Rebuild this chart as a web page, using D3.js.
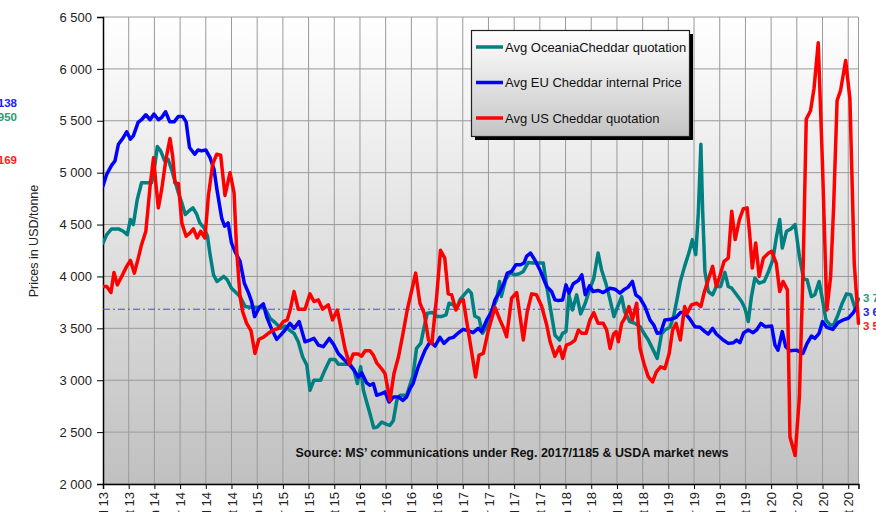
<!DOCTYPE html>
<html><head><meta charset="utf-8">
<script src="https://cdn.jsdelivr.net/npm/d3@7"></script>
<style>body{margin:0;background:#fff;} svg{display:block;font-family:Arial,"Liberation Sans",sans-serif;}</style>
</head><body><svg id="c" width="876" height="512"></svg>
<script>
// ---- DATA ----
// x values are months since Jul 2013
const tickMonths = d3.range(0, 88, 3);
const tickLabels = ["Jul 13","Oct 13","Jan 14","Apr 14","Jul 14","Oct 14","Jan 15","Apr 15","Jul 15","Oct 15",
  "Jan 16","Apr 16","Jul 16","Oct 16","Jan 17","Apr 17","Jul 17","Oct 17","Jan 18","Apr 18","Jul 18","Oct 18",
  "Jan 19","Apr 19","Jul 19","Oct 19","Jan 20","Apr 20","Jul 20","Oct 20"];
const yTicks = [2000,2500,3000,3500,4000,4500,5000,5500,6000,6500];
const seriesNames = ["Avg OceaniaCheddar quotation","Avg EU Cheddar internal Price","Avg US Cheddar quotation"];
const seriesColors = ["#008080","#0000ff","#ff0000"];
const refLevel = 3684;
const leftValues = ["5 138","4 950","5 169"];
const rightValues = ["3 781","3 654","3 549"];
const sourceText = "Source: MS\u2019 communications under Reg. 2017/1185  & USDA market news";
const yTitle = "Prices in USD/tonne";

const oceania = [[0,4322],[0.43,4403],[1.0,4458],[1.8,4458],[2.37,4435],[2.84,4403],[3.2,4548],[3.54,4500],[4.0,4742],[4.5,4903],[5.1,4903],[5.68,4903],[6.07,5081],[6.34,5252],[6.73,5210],[7.2,5113],[7.6,5129],[8.0,5032],[8.4,4919],[8.8,4806],[9.2,4710],[9.6,4597],[10.0,4629],[10.5,4661],[10.95,4597],[11.3,4516],[11.8,4468],[12.2,4387],[12.5,4210],[12.9,4016],[13.3,3952],[13.7,3974],[14.1,4000],[14.5,3968],[15.0,3887],[15.4,3855],[16.0,3806],[16.6,3710],[17.16,3703],[18.13,3703],[18.9,3694],[19.5,3597],[20.1,3555],[20.74,3500],[21.25,3523],[21.75,3484],[22.3,3452],[22.8,3371],[23.3,3226],[23.8,3145],[24.16,2903],[24.63,3000],[25.4,3000],[25.9,3097],[26.5,3200],[27.08,3200],[27.47,3155],[28.13,3155],[28.83,3155],[29.3,3103],[29.69,2968],[30.08,3129],[30.4,2903],[30.78,2790],[31.17,2677],[31.6,2542],[32.0,2548],[32.53,2597],[33.1,2574],[33.5,2565],[33.9,2613],[34.3,2806],[34.7,2855],[35.45,2855],[36.2,3048],[36.6,3306],[37.1,3355],[37.5,3516],[37.86,3645],[38.5,3652],[39.0,3613],[39.5,3613],[40.04,3629],[40.4,3742],[40.9,3726],[41.3,3694],[41.67,3774],[42.14,3823],[42.65,3871],[43.0,3839],[43.4,3619],[43.9,3597],[44.3,3452],[44.8,3516],[45.37,3677],[45.95,3774],[46.3,3952],[46.5,3806],[47.0,3968],[47.5,4032],[48.1,4016],[48.6,4026],[49.07,4048],[49.65,4135],[50.2,4129],[50.8,4129],[51.4,4129],[51.8,3903],[52.2,3710],[52.76,3435],[53.3,3387],[53.66,3452],[54.05,3468],[54.4,3823],[54.8,3677],[55.3,3823],[55.76,3639],[56.3,3742],[56.8,3871],[57.3,3984],[57.8,4226],[58.2,4065],[58.7,3935],[59.2,3774],[59.65,3613],[60.16,3726],[60.55,3806],[60.9,3661],[61.5,3565],[62.1,3548],[62.7,3516],[63.15,3452],[63.66,3387],[64.24,3290],[64.7,3210],[65.2,3445],[65.6,3484],[66.2,3510],[66.65,3629],[67.0,3774],[67.4,3952],[67.9,4097],[68.45,4242],[68.8,4355],[69.2,4210],[69.5,4613],[69.8,5274],[70.0,4645],[70.27,4048],[70.66,3855],[71.17,3823],[71.6,3903],[72.1,3903],[72.6,4039],[73.0,3903],[73.4,3887],[73.97,3823],[74.55,3758],[74.94,3694],[75.33,3565],[75.7,3806],[76.1,3984],[76.6,3935],[77.2,3952],[77.7,4048],[78.2,4161],[78.6,4371],[79.0,4548],[79.3,4274],[79.8,4435],[80.3,4458],[80.8,4500],[81.3,4194],[81.8,3974],[82.2,3968],[82.7,3806],[83.1,3823],[83.6,3952],[84.0,3774],[84.4,3581],[84.9,3532],[85.3,3532],[85.8,3629],[86.3,3742],[86.8,3832],[87.3,3823],[87.8,3694],[88.2,3781]];

const eu = [[0,4871],[0.43,4984],[1.0,5071],[1.4,5113],[1.8,5274],[2.3,5329],[2.76,5394],[3.2,5323],[3.54,5355],[4.1,5484],[4.5,5510],[5.0,5558],[5.5,5510],[5.95,5565],[6.46,5510],[6.85,5532],[7.3,5587],[7.8,5490],[8.3,5490],[8.8,5542],[9.3,5542],[9.7,5490],[10.1,5242],[10.7,5177],[11.1,5219],[11.5,5210],[12.0,5219],[12.5,5145],[12.96,5032],[13.3,4839],[13.85,4565],[14.2,4484],[14.6,4516],[15.0,4323],[15.4,4242],[16.0,4145],[16.5,3935],[17.0,3839],[17.35,3758],[17.7,3613],[18.25,3703],[18.72,3735],[19.1,3613],[19.57,3516],[20.27,3394],[20.74,3435],[21.25,3484],[21.83,3548],[22.3,3500],[22.9,3565],[23.58,3371],[24.16,3387],[24.63,3403],[25.14,3339],[25.72,3323],[26.42,3403],[26.9,3348],[27.47,3258],[28.13,3200],[28.83,3145],[29.3,3097],[29.8,3032],[30.2,3071],[30.78,2974],[31.17,2952],[31.56,2968],[31.95,2855],[32.53,2871],[32.92,2887],[33.4,2790],[33.9,2839],[34.5,2839],[35.0,2806],[35.45,2839],[35.84,2919],[36.2,2968],[36.8,3129],[37.6,3290],[38.2,3371],[38.76,3329],[39.34,3413],[39.8,3355],[40.4,3403],[40.9,3413],[41.5,3458],[42.06,3490],[42.65,3477],[43.2,3458],[43.8,3500],[44.2,3468],[44.8,3581],[45.37,3661],[45.76,3774],[46.34,3855],[46.8,3935],[47.2,4032],[47.7,4048],[48.2,4113],[48.75,4113],[49.14,4129],[49.45,4194],[49.9,4226],[50.4,4161],[51.0,4065],[51.8,3903],[52.37,3855],[52.76,3774],[53.15,3768],[53.66,3774],[54.05,3919],[54.4,3839],[54.9,3929],[55.5,3961],[55.9,4016],[56.3,3823],[56.8,3910],[57.2,3855],[57.8,3865],[58.4,3845],[59.2,3887],[59.77,3877],[60.35,3839],[60.8,3871],[61.3,3897],[61.8,3952],[62.2,3823],[62.7,3790],[63.27,3710],[63.85,3581],[64.3,3532],[64.7,3452],[65.1,3458],[65.6,3581],[66.3,3587],[66.9,3606],[67.4,3652],[67.9,3652],[68.45,3597],[69.1,3516],[69.7,3510],[70.27,3468],[70.66,3445],[71.17,3500],[71.6,3445],[72.4,3387],[73.0,3355],[73.6,3361],[73.97,3387],[74.36,3361],[74.8,3458],[75.33,3484],[75.9,3458],[76.3,3484],[76.8,3548],[77.3,3516],[78.06,3523],[78.45,3339],[78.8,3290],[79.3,3468],[79.7,3323],[80.2,3284],[80.97,3290],[81.7,3258],[82.2,3355],[82.7,3426],[83.1,3403],[83.6,3452],[84.0,3565],[84.5,3510],[85.2,3490],[85.8,3555],[86.4,3581],[87.0,3597],[87.6,3652],[88.05,3710]];

const us = [[0,3903],[0.43,3903],[0.93,3845],[1.28,4039],[1.67,3919],[2.18,4000],[2.76,4097],[3.2,4155],[3.66,4032],[4.12,4177],[4.5,4306],[5.0,4435],[5.5,4871],[5.9,5145],[6.2,4871],[6.46,4661],[6.85,4839],[7.35,5129],[7.82,5329],[8.13,5161],[8.4,4903],[8.8,4897],[9.2,4516],[9.7,4387],[10.16,4419],[10.55,4458],[11.0,4371],[11.4,4435],[11.9,4371],[12.3,4774],[12.8,5081],[13.27,5177],[13.74,5168],[14.24,4781],[14.83,5000],[15.3,4806],[15.6,4258],[16.0,3806],[16.3,3661],[16.77,3548],[17.28,3477],[17.74,3258],[18.2,3395],[18.7,3413],[19.3,3452],[19.9,3484],[20.5,3500],[21.05,3565],[21.5,3581],[21.9,3694],[22.3,3855],[22.8,3684],[23.58,3684],[24.16,3832],[24.63,3758],[25.14,3774],[25.64,3684],[26.3,3726],[26.8,3581],[27.35,3677],[27.86,3468],[28.25,3306],[28.76,3155],[29.2,3252],[29.8,3252],[30.2,3232],[30.6,3284],[31.17,3284],[31.56,3242],[31.95,3168],[32.5,3113],[32.92,3065],[33.5,2806],[33.97,3065],[34.5,3226],[35.0,3440],[35.5,3670],[36.0,3850],[36.5,4032],[37.0,3742],[37.5,3645],[38.0,3387],[38.4,3355],[38.95,3806],[39.4,4252],[39.9,4177],[40.3,3832],[40.7,3823],[41.2,3677],[41.67,3758],[42.06,3774],[42.65,3468],[43.0,3290],[43.5,3032],[43.9,3242],[44.4,3258],[45.0,3484],[45.76,3703],[46.34,3581],[46.7,3516],[47.12,3419],[47.7,3790],[48.3,3845],[48.75,3581],[49.07,3387],[49.53,3661],[50.04,3832],[50.6,3823],[51.2,3716],[51.8,3532],[52.2,3370],[52.76,3230],[53.3,3323],[53.66,3210],[54.1,3339],[54.6,3355],[55.1,3387],[55.5,3484],[55.9,3452],[56.4,3452],[56.85,3581],[57.3,3652],[57.8,3548],[58.4,3548],[58.8,3484],[59.2,3306],[59.6,3445],[59.9,3468],[60.16,3371],[60.55,3548],[60.9,3597],[61.4,3710],[61.8,3581],[62.3,3742],[62.7,3306],[63.15,3161],[63.66,3032],[64.16,2984],[64.6,3081],[65.1,3129],[65.6,3113],[66.1,3258],[66.5,3484],[66.9,3548],[67.4,3387],[67.9,3710],[68.2,3645],[68.7,3726],[69.3,3742],[69.8,3710],[70.2,3850],[70.66,3968],[71.17,4097],[71.6,3903],[72.0,4000],[72.5,4145],[73.0,4177],[73.4,4629],[73.8,4355],[74.3,4548],[74.75,4652],[75.2,4661],[75.5,4403],[75.8,4081],[76.2,4323],[76.6,4000],[77.1,4177],[77.7,4226],[78.06,4242],[78.6,4129],[79.0,3855],[79.4,3952],[79.9,3871],[80.2,2452],[80.8,2274],[81.3,2839],[81.75,4129],[82.1,5516],[82.6,5597],[83.0,5806],[83.5,6252],[84.0,5065],[84.5,3677],[84.95,4000],[85.3,4677],[85.7,5694],[86.1,5790],[86.7,6081],[87.2,5710],[87.7,4129],[88.2,3548]];

// ---- CHART ----
const svg = d3.select("#c");
const L = 103, R = 858.5, T = 17, B = 484;
const x = d3.scaleLinear().domain([0, 88.2]).range([L, R]);
const y = d3.scaleLinear().domain([2000, 6500]).range([B, T]);

const defs = svg.append("defs");
const g1 = defs.append("linearGradient").attr("id","bg").attr("x1",0).attr("y1",0).attr("x2",0).attr("y2",1);
g1.append("stop").attr("offset","0%").attr("stop-color","#ffffff");
g1.append("stop").attr("offset","100%").attr("stop-color","#c0c0c0");
const g2 = defs.append("linearGradient").attr("id","lg").attr("x1",0).attr("y1",0).attr("x2",0).attr("y2",1);
g2.append("stop").attr("offset","0%").attr("stop-color","#ffffff");
g2.append("stop").attr("offset","100%").attr("stop-color","#c4c4c4");
defs.append("clipPath").attr("id","clip").append("rect").attr("x",L).attr("y",T-10).attr("width",R-L+2).attr("height",B-T+10);

svg.append("rect").attr("x",L).attr("y",T).attr("width",R-L).attr("height",B-T).attr("fill","url(#bg)");

// grid
svg.append("g").selectAll("line").data(yTicks).join("line")
  .attr("x1",L).attr("x2",R).attr("y1",d=>y(d)).attr("y2",d=>y(d))
  .attr("stroke","#9a9a9a").attr("stroke-width",1);
svg.append("g").selectAll("line").data(tickMonths.slice(1)).join("line")
  .attr("x1",d=>x(d)).attr("x2",d=>x(d)).attr("y1",T).attr("y2",B)
  .attr("stroke","#9a9a9a").attr("stroke-width",1);
svg.append("line").attr("x1",R).attr("x2",R).attr("y1",T).attr("y2",B).attr("stroke","#9a9a9a");

// axes
const yAxis = d3.axisLeft(y).tickValues(yTicks).tickSize(6).tickPadding(5)
  .tickFormat(d => d3.format(",")(d).replace(",", " "));
const ya = svg.append("g").attr("transform",`translate(${L},0)`).call(yAxis);
ya.selectAll("text").attr("font-size",13).attr("fill","#222").attr("font-family","Arial, Liberation Sans, sans-serif");
ya.select(".domain").attr("stroke","#000").attr("stroke-width",1.5);

const xAxis = d3.axisBottom(x).tickValues(tickMonths).tickSize(5).tickFormat((d,i)=>tickLabels[i]);
const xa = svg.append("g").attr("transform",`translate(0,${B})`).call(xAxis);
xa.select(".domain").attr("stroke","#000").attr("stroke-width",1.5);
xa.selectAll("text").attr("font-size",13).attr("fill","#222").attr("font-family","Arial, Liberation Sans, sans-serif")
  .attr("text-anchor","end").attr("dy","0.35em")
  .attr("transform","rotate(-90)").attr("x",-8).attr("y",0);

// reference line
svg.append("line").attr("x1",L).attr("x2",R).attr("y1",y(refLevel)).attr("y2",y(refLevel))
  .attr("stroke","#4646ff").attr("stroke-width",1).attr("stroke-dasharray","7,3,2,3");

// series lines
const line = d3.line().x(d=>x(d[0])).y(d=>y(d[1]));
const plot = svg.append("g").attr("clip-path","url(#clip)");
[oceania, eu, us].forEach((s,i)=>{
  plot.append("path").datum(s).attr("d",line).attr("fill","none")
    .attr("stroke",seriesColors[i]).attr("stroke-width",3.5)
    .attr("stroke-linejoin","round").attr("stroke-linecap","round");
});

// source text
svg.append("text").attr("x",512).attr("y",457).attr("text-anchor","middle")
  .attr("font-weight","bold").attr("font-size",12).attr("fill","#111")
  .attr("textLength",433).attr("lengthAdjust","spacingAndGlyphs").text(sourceText);

// y title
svg.append("text").attr("transform","translate(38,241) rotate(-90)").attr("text-anchor","middle")
  .attr("font-size",12.5).attr("fill","#222").text(yTitle);

// legend
const lg = svg.append("g");
lg.append("rect").attr("x",475).attr("y",34).attr("width",218).attr("height",106).attr("fill","#000");
lg.append("rect").attr("x",471.5).attr("y",30.5).attr("width",218).attr("height",106)
  .attr("fill","url(#lg)").attr("stroke","#222").attr("stroke-width",1.2);
const ly = [47, 82.5, 118];
seriesNames.forEach((n,i)=>{
  lg.append("line").attr("x1",476).attr("x2",503).attr("y1",ly[i]).attr("y2",ly[i])
    .attr("stroke",seriesColors[i]).attr("stroke-width",3.5);
  lg.append("text").attr("x",505).attr("y",ly[i]+4.5).attr("font-size",13).attr("fill","#111").text(n);
});

// side value labels (cut off by the canvas edges)
const sideColors = ["#1a1aff","#2e9a6e","#ff1a1a"];
const leftY = [103, 117, 160];
leftValues.forEach((v,i)=>{
  svg.append("text").attr("x",17).attr("y",leftY[i]).attr("dy","0.35em").attr("text-anchor","end")
    .attr("font-weight","bold").attr("font-size",11.5).attr("fill",sideColors[i]).text(v);
});
const rightY = [298, 312, 326];
const rightCol = ["#2e9a6e","#1a1aff","#ff1a1a"];
rightValues.forEach((v,i)=>{
  svg.append("text").attr("x",863).attr("y",rightY[i]).attr("dy","0.35em")
    .attr("font-weight","bold").attr("font-size",11.5).attr("fill",rightCol[i]).text(v);
});
</script></body></html>
